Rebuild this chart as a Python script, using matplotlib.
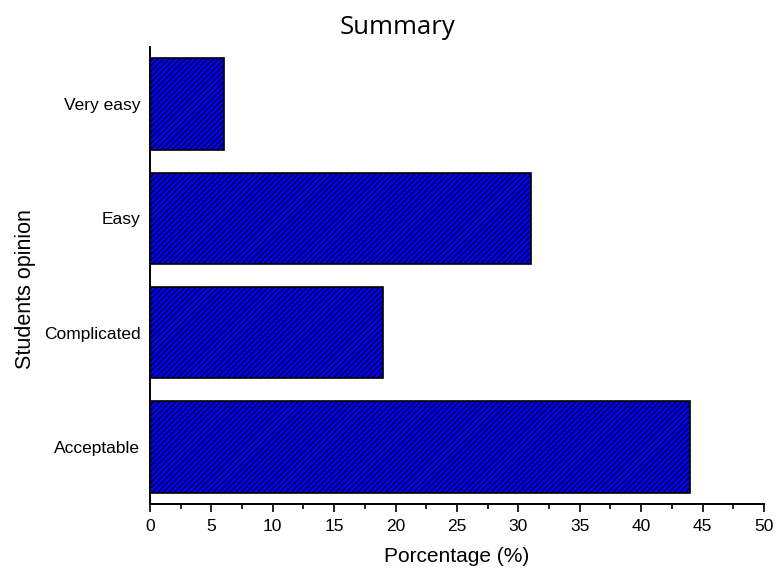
import matplotlib.pyplot as plt
from matplotlib.ticker import MultipleLocator

categories = ['Acceptable', 'Complicated', 'Easy', 'Very easy']
percentages = [44, 19, 31, 6]

plt.rcParams['font.family'] = 'Liberation Sans'
plt.rcParams['hatch.linewidth'] = 0.8

fig = plt.figure(figsize=(7.76, 5.72), dpi=100)
ax = fig.add_axes([0.1933, 0.1189, 0.7912, 0.7989])

ax.barh(range(len(categories)), percentages, height=0.8, color='#0000ff',
        edgecolor='black', linewidth=1.2, hatch='//////')

ax.set_xlim(0, 50)
ax.set_ylim(-0.5, 3.5)
ax.set_yticks(range(len(categories)))
ax.set_yticklabels(categories, fontsize=12.5)
ax.xaxis.set_major_locator(MultipleLocator(5))
ax.xaxis.set_minor_locator(MultipleLocator(2.5))
ax.tick_params(axis='x', which='major', direction='out', length=6, width=1.2,
               labelsize=12.5, pad=5)
ax.tick_params(axis='x', which='minor', direction='out', length=3.5, width=1.2)
ax.tick_params(axis='y', length=0, pad=7)

for side in ['top', 'right']:
    ax.spines[side].set_visible(False)
for side in ['left', 'bottom']:
    ax.spines[side].set_linewidth(1.4)

ax.set_xlabel('Porcentage (%)', fontsize=15, labelpad=9)
ax.set_ylabel('Students opinion', fontsize=15.5)
ax.yaxis.set_label_coords(-0.185, 0.47)
fig.text(0.512, 0.952, 'Summary', fontsize=18.5, family='Open Sans',
         ha='center', va='center')

fig.savefig('out.png', dpi=100)
